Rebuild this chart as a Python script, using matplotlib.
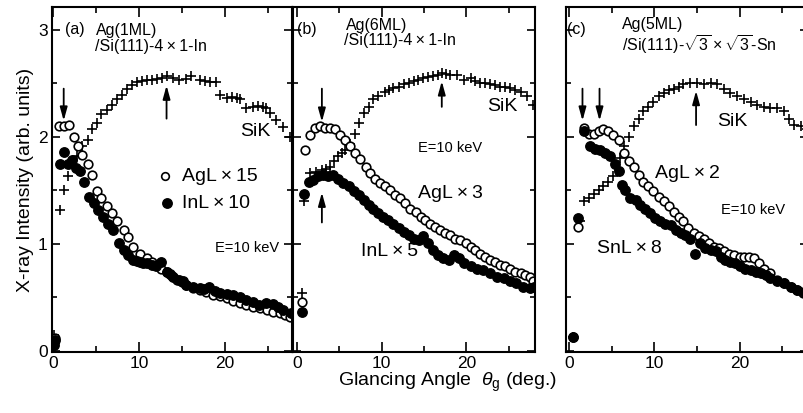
import numpy as np
import matplotlib.pyplot as plt

plt.rcParams['font.family'] = ['Liberation Sans', 'DejaVu Sans']
plt.rcParams['mathtext.fontset'] = 'custom'
plt.rcParams['mathtext.rm'] = 'Liberation Sans'
plt.rcParams['mathtext.it'] = 'Liberation Sans:italic'

# ---- panel (a): Ag(1ML)/Si(111)-4x1-In ----
ang_a_si = [0.1, 0.2, 0.8, 1.2, 1.75, 2.7, 3.3, 4.0, 4.5, 5.05, 5.6, 6.2, 6.8, 7.4, 8.0,
            8.55, 9.2, 9.7, 10.3, 10.9, 11.5, 12.1, 12.7, 13.2, 14.0, 14.7, 15.5, 16.1,
            17.1, 17.7, 18.3, 19.0, 19.4, 20.2, 20.8, 21.4, 21.8, 22.5, 23.3, 23.9, 24.4,
            24.8, 25.3, 26.0, 26.8, 27.6]
si_a = [0.15, 0.07, 1.32, 1.50, 1.63, 1.82, 1.91, 1.97, 2.07, 2.13, 2.21, 2.25, 2.30, 2.35,
        2.39, 2.45, 2.48, 2.51, 2.52, 2.53, 2.53, 2.54, 2.55, 2.57, 2.55, 2.53, 2.54, 2.57,
        2.53, 2.52, 2.51, 2.51, 2.39, 2.36, 2.37, 2.36, 2.35, 2.27, 2.28, 2.29, 2.28, 2.27,
        2.22, 2.16, 2.09, 2.00]
ang_a_ag = [0.1, 0.2, 0.7, 1.2, 1.8, 2.4, 2.9, 3.3, 4.0, 4.5, 5.05, 5.6, 6.2, 6.8, 7.4, 8.2,
            8.75, 9.3, 10.1, 10.9, 11.5, 12.0, 12.6, 13.2, 13.8, 14.4, 15.0, 15.5, 16.3, 17.1,
            17.8, 18.6, 19.4, 20.2, 21.0, 21.8, 22.5, 23.3, 24.1, 24.9, 25.6, 26.4, 27.0, 27.6]
ag_a = [0.08, 0.12, 2.10, 2.10, 2.11, 2.00, 1.91, 1.83, 1.75, 1.64, 1.49, 1.43, 1.35, 1.29,
        1.21, 1.13, 1.06, 0.97, 0.91, 0.87, 0.83, 0.80, 0.77, 0.74, 0.70, 0.66, 0.64, 0.62,
        0.59, 0.57, 0.55, 0.52, 0.51, 0.49, 0.47, 0.45, 0.43, 0.41, 0.40, 0.38, 0.36, 0.35,
        0.34, 0.32]
ang_a_in = [0.1, 0.2, 0.8, 1.2, 1.75, 2.2, 2.6, 3.1, 3.6, 4.2, 4.7, 5.2, 5.8, 6.4, 7.0, 7.6,
            8.2, 8.75, 9.3, 9.7, 10.1, 10.5, 10.9, 11.5, 12.0, 12.5, 13.2, 13.6, 14.0, 14.7,
            15.1, 15.5, 16.3, 17.1, 17.6, 18.2, 18.8, 19.4, 20.2, 21.0, 21.8, 22.5, 23.3,
            24.0, 24.8, 25.6, 26.2, 26.8, 27.7]
in_a = [0.06, 0.10, 1.75, 1.86, 1.75, 1.78, 1.71, 1.68, 1.58, 1.44, 1.38, 1.32, 1.25, 1.19,
        1.13, 1.01, 0.94, 0.90, 0.85, 0.84, 0.83, 0.82, 0.82, 0.80, 0.79, 0.83, 0.74, 0.72,
        0.69, 0.66, 0.65, 0.62, 0.60, 0.59, 0.58, 0.60, 0.56, 0.54, 0.53, 0.52, 0.50, 0.48,
        0.46, 0.43, 0.45, 0.44, 0.41, 0.38, 0.35]

# ---- panel (b): Ag(6ML)/Si(111)-4x1-In ----
ang_b_si = [0.6, 0.8, 1.6, 2.3, 2.95, 3.4, 3.9, 4.4, 4.9, 5.3, 5.7, 6.3, 6.9, 7.3, 7.9, 8.5,
            9.0, 9.6, 10.4, 10.9, 11.4, 12.0, 12.6, 13.2, 13.8, 14.3, 14.9, 15.5, 16.1,
            16.6, 17.1, 17.6, 18.1, 18.9, 19.7, 20.5, 21.0, 21.6, 22.2, 22.8, 23.4, 24.0,
            24.6, 25.2, 25.8, 26.4, 27.1, 27.9]
si_b = [0.54, 1.40, 1.66, 1.67, 1.69, 1.70, 1.72, 1.77, 1.82, 1.85, 1.88, 1.93, 2.03, 2.13,
        2.22, 2.28, 2.35, 2.38, 2.42, 2.44, 2.46, 2.47, 2.49, 2.50, 2.52, 2.53, 2.55, 2.56,
        2.57, 2.58, 2.60, 2.59, 2.58, 2.58, 2.53, 2.55, 2.52, 2.50, 2.50, 2.49, 2.48, 2.47,
        2.47, 2.46, 2.44, 2.42, 2.38, 2.30]
ang_b_ag = [0.6, 0.98, 1.57, 2.16, 2.75, 3.34, 3.93, 4.5, 5.1, 5.7, 6.3, 6.9, 7.5, 8.1, 8.65,
            9.2, 9.8, 10.4, 11.0, 11.6, 12.2, 12.8, 13.4, 14.0, 14.6, 15.1, 15.7, 16.3, 16.9,
            17.5, 18.1, 18.7, 19.3, 19.9, 20.5, 21.0, 21.6, 22.2, 22.8, 23.4, 24.0, 24.6,
            25.2, 25.8, 26.4, 26.9, 27.5, 27.9]
ag_b = [0.46, 1.88, 2.02, 2.08, 2.10, 2.08, 2.08, 2.07, 2.02, 1.97, 1.91, 1.85, 1.79, 1.72,
        1.66, 1.61, 1.57, 1.54, 1.50, 1.46, 1.43, 1.38, 1.33, 1.30, 1.25, 1.22, 1.19, 1.16,
        1.13, 1.10, 1.08, 1.05, 1.04, 1.01, 0.97, 0.94, 0.91, 0.88, 0.85, 0.83, 0.80, 0.79,
        0.77, 0.74, 0.73, 0.71, 0.69, 0.65]
ang_b_in = [0.6, 0.8, 1.4, 1.96, 2.55, 3.14, 3.7, 4.3, 4.9, 5.5, 6.1, 6.7, 7.3, 7.9, 8.5, 9.0,
            9.6, 10.2, 10.8, 11.4, 12.0, 12.6, 13.2, 13.8, 14.4, 14.9, 15.5, 16.1, 16.7,
            17.3, 17.9, 18.5, 19.1, 19.7, 20.5, 21.2, 22.0, 22.8, 23.6, 24.4, 25.2, 25.9,
            26.7, 27.5, 28.0]
in_b = [0.36, 1.47, 1.58, 1.60, 1.63, 1.64, 1.63, 1.64, 1.61, 1.57, 1.54, 1.49, 1.46, 1.41,
        1.36, 1.33, 1.29, 1.25, 1.22, 1.19, 1.15, 1.11, 1.08, 1.05, 1.04, 1.07, 1.01, 0.94,
        0.90, 0.87, 0.85, 0.90, 0.87, 0.82, 0.79, 0.77, 0.76, 0.73, 0.69, 0.68, 0.65, 0.63,
        0.60, 0.59, 0.60]

# ---- panel (c): Ag(5ML)/Si(111)-sqrt3 x sqrt3-Sn ----
ang_c_si = [0.5, 1.3, 1.7, 2.3, 2.9, 3.45, 4.0, 4.6, 5.2, 5.8, 6.0, 6.4, 7.0, 7.6, 8.15, 8.7,
            9.3, 9.9, 10.5, 11.1, 11.7, 12.3, 12.9, 13.4, 14.2, 15.0, 15.8, 16.6, 17.4, 18.2,
            18.9, 19.7, 20.5, 21.3, 22.1, 22.9, 23.6, 24.4, 25.2, 25.8, 26.4, 27.2, 27.9]
si_c = [0.13, 1.21, 1.40, 1.43, 1.47, 1.50, 1.54, 1.58, 1.63, 1.69, 1.80, 1.91, 2.00, 2.10,
        2.17, 2.24, 2.28, 2.33, 2.38, 2.41, 2.44, 2.45, 2.47, 2.49, 2.50, 2.50, 2.49, 2.50,
        2.49, 2.45, 2.41, 2.38, 2.35, 2.33, 2.30, 2.28, 2.27, 2.27, 2.24, 2.17, 2.11, 2.10,
        2.07]
ang_c_ag = [0.5, 1.1, 1.7, 2.3, 2.9, 3.45, 4.0, 4.6, 5.2, 5.8, 6.4, 7.0, 7.6, 8.15, 8.7, 9.3,
            9.9, 10.5, 11.1, 11.7, 12.3, 12.9, 13.4, 14.0, 14.6, 15.2, 15.8, 16.4, 17.0,
            17.6, 18.2, 18.8, 19.4, 20.0, 20.5, 21.1, 21.7, 22.3, 22.9, 23.6, 24.4, 25.2,
            26.0, 26.8, 27.5]
ag_c = [0.13, 1.16, 2.08, 2.03, 2.03, 2.05, 2.07, 2.05, 2.02, 1.97, 1.85, 1.77, 1.72, 1.64,
        1.58, 1.54, 1.49, 1.44, 1.40, 1.35, 1.30, 1.25, 1.21, 1.15, 1.10, 1.07, 1.05, 1.01,
        0.97, 0.96, 0.93, 0.91, 0.90, 0.88, 0.88, 0.88, 0.87, 0.82, 0.77, 0.73, 0.66, 0.63,
        0.60, 0.57, 0.54]
ang_c_sn = [0.5, 1.1, 1.7, 2.5, 3.06, 3.65, 4.2, 4.8, 5.4, 5.8, 6.2, 6.6, 7.2, 7.8, 8.35, 8.9,
            9.5, 10.1, 10.7, 11.3, 11.9, 12.5, 13.1, 13.6, 14.2, 14.8, 15.4, 16.0, 16.6,
            17.2, 17.8, 18.35, 18.9, 19.5, 20.1, 20.7, 21.3, 21.9, 22.5, 23.1, 23.6, 24.4,
            25.2, 26.0, 26.8, 27.6]
sn_c = [0.13, 1.24, 2.05, 1.91, 1.89, 1.88, 1.85, 1.82, 1.75, 1.68, 1.55, 1.50, 1.43, 1.41,
        1.36, 1.33, 1.29, 1.24, 1.21, 1.19, 1.18, 1.13, 1.10, 1.08, 1.05, 0.91, 1.01, 0.96,
        0.94, 0.93, 0.88, 0.85, 0.83, 0.82, 0.79, 0.77, 0.76, 0.74, 0.73, 0.71, 0.68, 0.65,
        0.63, 0.60, 0.57, 0.55]

X = '\u2009\u00d7\u2009'

fig = plt.figure(figsize=(8.04, 4.13), dpi=100)
ax_a = fig.add_axes([0.0643, 0.1477, 0.2985, 0.8346])
ax_b = fig.add_axes([0.3640, 0.1477, 0.3014, 0.8346])
ax_c = fig.add_axes([0.7036, 0.1477, 0.3010, 0.8346])

xlims = [(-0.2, 27.8), (-0.5, 28.1), (-0.4, 28.0)]

ms = 6.2
for ax, (x0, x1) in zip([ax_a, ax_b, ax_c], xlims):
    ax.set_xlim(x0, x1)
    ax.set_ylim(-0.01, 3.21)
    ax.set_xticks([0, 10, 20])
    ax.set_xticks([5, 15, 25], minor=True)
    ax.set_yticks([0, 1, 2, 3])
    ax.set_yticks([0.5, 1.5, 2.5], minor=True)
    ax.tick_params(which='both', direction='in', top=True, right=True, width=1.2,
                   labelsize=12.5, pad=3)
    ax.tick_params(axis='x', which='major', length=7.5)
    ax.tick_params(axis='x', which='minor', length=4)
    ax.tick_params(axis='y', which='major', length=6)
    ax.tick_params(axis='y', which='minor', length=3.5)
    for sp in ax.spines.values():
        sp.set_linewidth(1.5)

ax_b.tick_params(labelleft=False)
ax_c.tick_params(labelleft=False)


def draw(ax, xs, ys, xa, ya, xf, yf):
    ax.plot(xs, ys, '+', color='black', ms=7.5, mew=1.2, linestyle='none')
    ax.plot(xa, ya, 'o', mfc='white', mec='black', ms=ms, mew=1.2, linestyle='none')
    ax.plot(xf, yf, 'o', color='black', ms=ms + 0.6, linestyle='none')


draw(ax_a, ang_a_si, si_a, ang_a_ag, ag_a, ang_a_in, in_a)
draw(ax_b, ang_b_si, si_b, ang_b_ag, ag_b, ang_b_in, in_b)
draw(ax_c, ang_c_si, si_c, ang_c_ag, ag_c, ang_c_sn, sn_c)


def arrow(ax, x, y0, y1):
    ax.annotate('', xy=(x, y1), xytext=(x, y0),
                arrowprops=dict(arrowstyle='-|>,head_length=0.8,head_width=0.22',
                                color='black', lw=1.3, shrinkA=0, shrinkB=0))


# panel (a) texts
ax_a.text(1.3, 3.0, '(a)', fontsize=11.5, va='center')
ax_a.text(5.0, 2.99, 'Ag(1ML)', fontsize=11.5, va='center')
ax_a.text(4.8, 2.84, '/Si(111)-4' + X + '1-In', fontsize=11.5, va='center')
ax_a.text(23.5, 2.05, 'SiK', fontsize=14, ha='center', va='center')
ax_a.plot([13.0], [1.63], 'o', mfc='white', mec='black', ms=5.5, mew=1.2)
ax_a.plot([13.25], [1.38], 'o', color='black', ms=6.8)
ax_a.text(15.0, 1.63, 'AgL' + X + '15', fontsize=14, va='center')
ax_a.text(15.0, 1.38, 'InL' + X + '10', fontsize=14, va='center')
ax_a.text(18.8, 0.96, 'E=10 keV', fontsize=10.5, va='center')
arrow(ax_a, 1.2, 2.45, 2.15)
arrow(ax_a, 13.2, 2.17, 2.48)

# panel (b) texts
ax_b.text(0.0, 3.0, '(b)', fontsize=11.5, va='center')
ax_b.text(5.8, 3.04, 'Ag(6ML)', fontsize=11.5, va='center')
ax_b.text(5.6, 2.90, '/Si(111)-4' + X + '1-In', fontsize=11.5, va='center')
ax_b.text(24.3, 2.28, 'SiK', fontsize=14, ha='center', va='center')
ax_b.text(14.3, 1.90, 'E=10 keV', fontsize=10.5, va='center')
ax_b.text(14.3, 1.47, 'AgL' + X + '3', fontsize=14, va='center')
ax_b.text(7.6, 0.93, 'InL' + X + '5', fontsize=14, va='center')
arrow(ax_b, 2.95, 2.45, 2.14)
arrow(ax_b, 2.95, 1.20, 1.48)
arrow(ax_b, 17.1, 2.28, 2.52)

# panel (c) texts
ax_c.text(-0.2, 3.0, '(c)', fontsize=11.5, va='center')
ax_c.text(6.2, 3.05, 'Ag(5ML)', fontsize=11.5, va='center')
ax_c.text(6.2, 2.86, r'/Si(111)-$\sqrt{3}$' + X + r'$\sqrt{3}$-Sn', fontsize=11.5,
          va='center')
ax_c.text(19.2, 2.14, 'SiK', fontsize=14, ha='center', va='center')
ax_c.text(10.1, 1.66, 'AgL' + X + '2', fontsize=14, va='center')
ax_c.text(17.8, 1.32, 'E=10 keV', fontsize=10.5, va='center')
ax_c.text(3.3, 0.96, 'SnL' + X + '8', fontsize=14, va='center')
arrow(ax_c, 1.57, 2.45, 2.15)
arrow(ax_c, 3.57, 2.45, 2.15)
arrow(ax_c, 14.9, 2.11, 2.43)

ax_a.set_ylabel('X-ray Intensity (arb. units)', fontsize=14, labelpad=3)
fig.text(0.557, 0.075, r'Glancing Angle  $\theta_{\rm g}$ (deg.)', fontsize=14,
         ha='center', va='center')

fig.savefig('out.png', dpi=100)
